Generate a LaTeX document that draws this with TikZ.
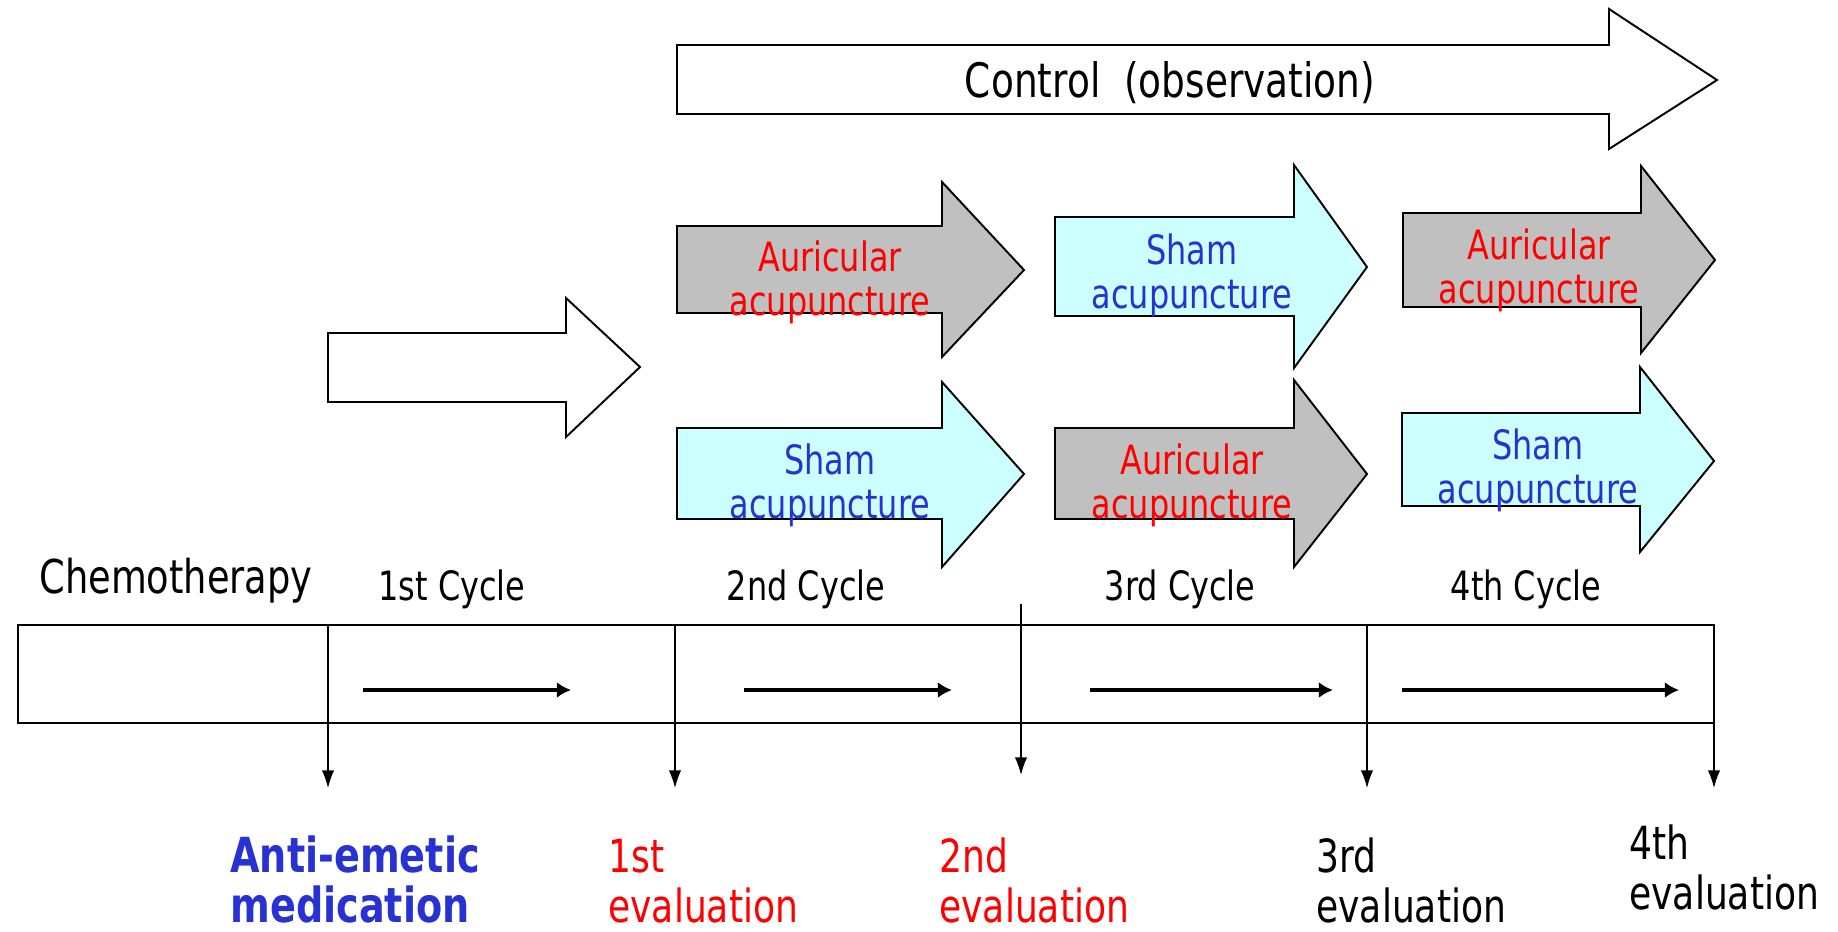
\documentclass[tikz,border=0pt]{standalone}
\usepackage{fontspec}
\setmainfont[FakeStretch=0.79]{DejaVu Sans}
\usepackage{tikz}
\usetikzlibrary{arrows.meta,
                positioning}
\definecolor{shamcyan}{HTML}{CCFFFF}
\definecolor{auricgray}{HTML}{C0C0C0}
\definecolor{shamblue}{RGB}{40,50,210}

\begin{document}
\begin{tikzpicture}[x=0.02cm, y=-0.02cm,
    Block/.style={draw, line width=1.1pt, line join=miter},
    Auric/.style={Block, fill=auricgray},
    Sham/.style={Block, fill=shamcyan},
    AuricText/.style={text=red, align=center, anchor=base, inner sep=0pt, font=\fontsize{23}{24.5}\selectfont},
    ShamText/.style={AuricText, text=shamblue},
    CycleText/.style={anchor=base, inner sep=0pt, font=\fontsize{23}{27}\selectfont},
    EvalText/.style={anchor=base west, align=left, inner sep=0pt, text depth=0pt, font=\fontsize{26}{28}\selectfont},
    EvalArrow/.style={line width=0.8pt, -{Latex[length=10pt,width=7pt]}},
    RunArrow/.style={line width=1.9pt, -{Latex[length=8pt,width=9pt]}}
    ]
    \useasboundingbox (0,0) rectangle (1838,931);

    %control arrow
    \draw[Block, fill=white] (677,45) -- (1609,45) -- (1609,9) -- (1717,80)
        -- (1609,149) -- (1609,114) -- (677,114) -- cycle;
    \node[anchor=base, inner sep=0pt, font=\fontsize{27}{30}\selectfont] (control) at (1170,97) {Control\ \ (observation)};

    %first cycle (empty arrow)
    \draw[Block, fill=white] (328,333) -- (566,333) -- (566,298) -- (640,367)
        -- (566,437) -- (566,402) -- (328,402) -- cycle;

    %2nd cycle (base = second line)
    \draw[Auric] (677,226) -- (942,226) -- (942,182) -- (1024,270)
        -- (942,357) -- (942,313) -- (677,313) -- cycle;
    \draw[Sham] (677,428) -- (942,428) -- (942,382) -- (1024,474)
        -- (942,567) -- (942,519) -- (677,519) -- cycle;
    \node[AuricText] (auric2) at (830,315) {Auricular\\acupuncture};
    \node[ShamText]  (sham2)  at (830,518) {Sham\\acupuncture};

    %3rd cycle
    \draw[Sham] (1055,217) -- (1294,217) -- (1294,165) -- (1367,267)
        -- (1294,368) -- (1294,316) -- (1055,316) -- cycle;
    \draw[Auric] (1055,428) -- (1294,428) -- (1294,380) -- (1367,474)
        -- (1294,567) -- (1294,519) -- (1055,519) -- cycle;
    \node[ShamText]  (sham3)  at (1192,308) {Sham\\acupuncture};
    \node[AuricText] (auric3) at (1192,518) {Auricular\\acupuncture};

    %4th cycle
    \draw[Auric] (1403,213) -- (1641,213) -- (1641,166) -- (1715,260)
        -- (1641,353) -- (1641,307) -- (1403,307) -- cycle;
    \draw[Sham] (1402,413) -- (1640,413) -- (1640,367) -- (1714,461)
        -- (1640,552) -- (1640,506) -- (1402,506) -- cycle;
    \node[AuricText] (auric4) at (1539,303) {Auricular\\acupuncture};
    \node[ShamText]  (sham4)  at (1538,503) {Sham\\acupuncture};

    %time line
    \draw[line width=1.5pt] (18,625) rectangle (1714,723);
    \node[anchor=base, inner sep=0pt, font=\fontsize{26.5}{30}\selectfont] (chemo) at (176,593) {Chemotherapy};
    \node[CycleText] (cyc1) at (452,600)  {1st Cycle};
    \node[CycleText] (cyc2) at (806,600)  {2nd Cycle};
    \node[CycleText] (cyc3) at (1180,600) {3rd Cycle};
    \node[CycleText] (cyc4) at (1526,600) {4th Cycle};

    \foreach \n/\xs/\xe in {1/363/571, 2/744/952, 3/1090/1333, 4/1402/1679}{
        \coordinate (run\n s) at (\xs,690);
        \coordinate (run\n e) at (\xe,690);
        \draw[RunArrow] (run\n s) -- (run\n e);
    }

    %evaluation points
    \foreach \n/\x/\ys/\ye in {0/328/625/788, 1/675/625/788, 2/1021/604/775, 3/1367/625/788, 4/1714/625/788}{
        \coordinate (pt\n) at (\x,\ys);
        \coordinate (ev\n) at (\x,\ye);
        \draw[EvalArrow] (pt\n) -- (ev\n);
    }

    \node[EvalText, text=shamblue, font=\fontsize{27.5}{28}\selectfont\bfseries] (antiemetic) at (230,922) {Anti-emetic\\medication};
    \node[EvalText, text=red] (eval1) at (608,922)  {1st\\evaluation};
    \node[EvalText, text=red] (eval2) at (939,922)  {2nd\\evaluation};
    \node[EvalText] (eval3) at (1316,922) {3rd\\evaluation};
    \node[EvalText] (eval4) at (1629,909) {4th\\evaluation};
\end{tikzpicture}
\end{document}
